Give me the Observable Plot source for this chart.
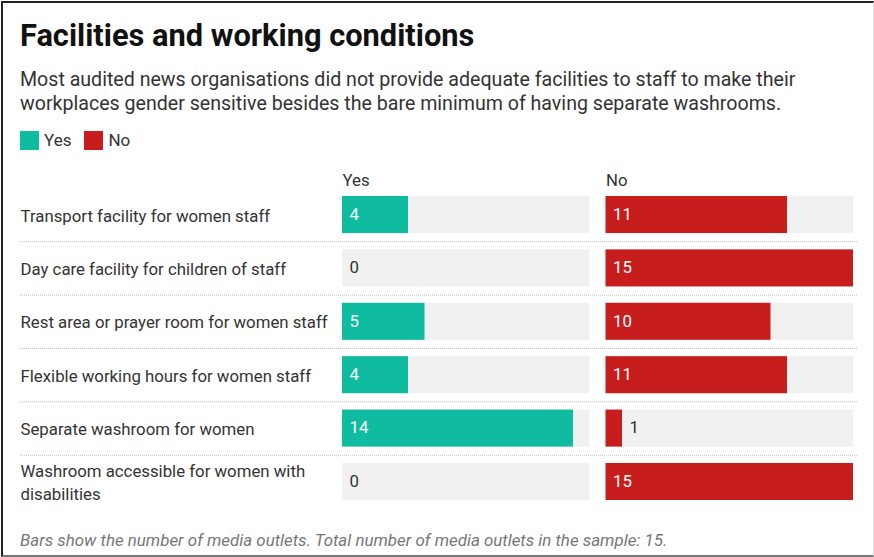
<!DOCTYPE html>
<html>
<head>
<meta charset="utf-8">
<script src="https://cdn.jsdelivr.net/npm/d3@7"></script>
<script src="https://cdn.jsdelivr.net/npm/@observablehq/plot@0.6"></script>
<style>
  html, body { margin: 0; padding: 0; background: #fff; }
  body { width: 874px; height: 557px; position: relative; overflow: hidden; font-family: Roboto, "Noto Sans", sans-serif; }
  .frame { position: absolute; left: 1px; top: 1px; width: 870px; height: 552px;
           border-top: 2px solid #222; border-left: 2px solid #222; border-bottom: 2px solid #777; border-right: 1px solid #ddd; }
  .title { position: absolute; left: 20px; top: 18px; font-size: 30.8px; line-height: 36px; font-weight: 700; color: #111; white-space: nowrap; }
  .subtitle { position: absolute; left: 20px; top: 68px; font-size: 19.6px; line-height: 24px; color: #333; width: 800px; }
  .legend { position: absolute; left: 20px; top: 130px; font-size: 17px; line-height: 20px; color: #333; display: flex; align-items: center; }
  .legend .sw { width: 19px; height: 19px; display: inline-block; margin-right: 5px; }
  .legend .item { display: flex; align-items: center; margin-right: 13px; }
  #chart { position: absolute; left: 0; top: 160px; }
  .footer { position: absolute; left: 20px; top: 530px; font-size: 16.9px; line-height: 20px; font-style: italic; color: #777; white-space: nowrap; }
</style>
</head>
<body>
<div class="frame"></div>
<div class="title">Facilities and working conditions</div>
<div class="subtitle">Most audited news organisations did not provide adequate facilities to staff to make their workplaces gender sensitive besides the bare minimum of having separate washrooms.</div>
<div class="legend" id="legend"></div>
<div id="chart"></div>
<div class="footer">Bars show the number of media outlets. Total number of media outlets in the sample: 15.</div>
<script>
const categories = [
  "Transport facility for women staff",
  "Day care facility for children of staff",
  "Rest area or prayer room for women staff",
  "Flexible working hours for women staff",
  "Separate washroom for women",
  "Washroom accessible for women with\ndisabilities"
];
const yesValues = [4, 0, 5, 4, 14, 0];
const noValues = [11, 15, 10, 11, 1, 15];
const columns = ["Yes", "No"];
const columnColors = ["#0fbc9f", "#c71e1d"];
const total = 15;

// legend
const legend = document.getElementById("legend");
columns.forEach((c, i) => {
  const item = document.createElement("span");
  item.className = "item";
  item.innerHTML = `<span class="sw" style="background:${columnColors[i]}"></span>${c}`;
  legend.appendChild(item);
});

const rows = categories.flatMap((c, i) => [
  {category: c, answer: "Yes", value: yesValues[i]},
  {category: c, answer: "No", value: noValues[i]}
]);

const rowStep = 53.33;
const fs = 16.8;

const chart = Plot.plot({
  width: 874,
  height: 355,
  marginLeft: 342,
  marginRight: 21,
  marginTop: 36,
  marginBottom: 15,
  style: {fontFamily: "Roboto, sans-serif", fontSize: fs + "px", color: "#333", background: "transparent"},
  fx: {domain: columns, paddingInner: 0.0607, paddingOuter: 0, axis: null, round: false},
  x: {domain: [0, total], axis: null},
  y: {domain: categories, paddingInner: 0.306, paddingOuter: 0, axis: null, round: false},
  color: {domain: columns, range: columnColors},
  marks: [
    Plot.ruleY(categories.slice(0, -1), {
      y: d => d, fx: () => "Yes", dy: rowStep / 2,
      insetLeft: -322, insetRight: -268.5,
      stroke: "#bdbdbd", strokeWidth: 1, strokeDasharray: "1,1"
    }),
    Plot.barX(rows, {fx: "answer", y: "category", x1: 0, x2: () => total, fill: "#f1f1f1"}),
    Plot.barX(rows, {fx: "answer", y: "category", x1: 0, x2: "value", fill: "answer"}),
    Plot.text(rows, {
      fx: "answer", y: "category",
      x: d => d.value >= 2 ? 0 : d.value,
      text: d => String(d.value),
      textAnchor: "start", dx: 7, dy: -0.5,
      fill: d => d.value >= 2 ? "#ffffff" : "#333333",
      fontSize: fs
    }),
    Plot.text(categories, {
      y: d => d, fx: () => "Yes", text: d => d,
      frameAnchor: "left", textAnchor: "start", dx: -322, dy: -0.5,
      fill: "#333", fontSize: fs, lineHeight: 1.32
    }),
    Plot.text(columns, {
      fx: d => d, text: d => d,
      frameAnchor: "top-left", textAnchor: "start", dy: -22,
      fill: "#333", fontSize: fs
    })
  ]
});
document.getElementById("chart").appendChild(chart);
</script>
</body>
</html>
